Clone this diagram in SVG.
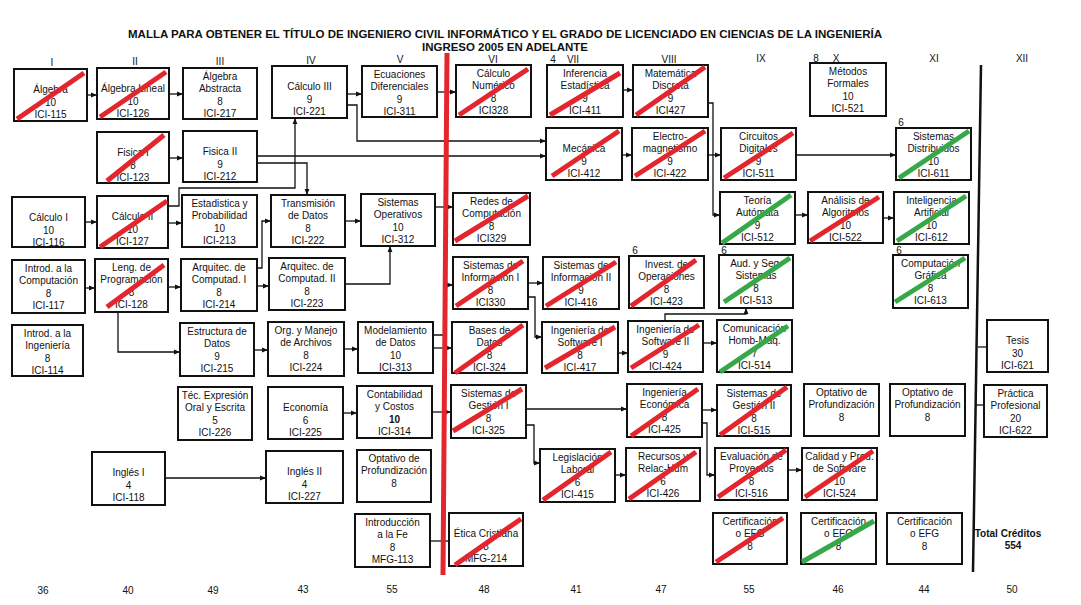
<svg xmlns="http://www.w3.org/2000/svg" width="1081" height="605" viewBox="0 0 1081 605">
<style>
text{font-family:"Liberation Sans",Arial,sans-serif;font-size:10px;text-anchor:middle;fill:#111}
.node rect{fill:#fff;stroke:#111;stroke-width:2}
.t{font-weight:bold;font-size:11px}
.b{font-weight:bold}
.r{stroke:#e3262e;stroke-width:5}
.g{stroke:#37a848;stroke-width:5}
#connectors path{fill:none;stroke:#111;stroke-width:1.3}
.a{marker-end:url(#arr)}
</style>
<defs>
<marker id="arr" viewBox="0 0 10 10" refX="10" refY="5" markerWidth="6" markerHeight="6" markerUnits="userSpaceOnUse" orient="auto"><path d="M0,1 L10,5 L0,9 z" fill="#111"/></marker>
</defs>
<rect width="1081" height="605" fill="#fff"/>
<g id="title">
<text class="t" x="505" y="38" textLength="754" lengthAdjust="spacingAndGlyphs">MALLA PARA OBTENER EL TÍTULO DE INGENIERO CIVIL INFORMÁTICO Y EL GRADO DE LICENCIADO EN CIENCIAS DE LA INGENIERÍA</text>
<text class="t" x="505" y="51" textLength="166" lengthAdjust="spacingAndGlyphs">INGRESO 2005 EN ADELANTE</text>
</g>
<g id="headers">
<text x="52" y="66">I</text><text x="135" y="65">II</text><text x="220" y="65">III</text><text x="311" y="64">IV</text><text x="400" y="63">V</text><text x="493" y="63">VI</text><text x="553" y="63">4</text><text x="573" y="63">VII</text><text x="669" y="63">VIII</text><text x="761" y="62">IX</text><text x="816" y="62">8</text><text x="836" y="62">X</text><text x="934" y="62">XI</text><text x="1022" y="62">XII</text>
<text x="635" y="254">6</text><text x="724" y="254">6</text><text x="899" y="254">6</text><text x="901" y="126">6</text>
</g>
<g id="totals">
<text x="43" y="594">36</text><text x="128" y="594">40</text><text x="213" y="594">49</text><text x="303" y="593">43</text><text x="392" y="593">55</text><text x="484" y="593">48</text><text x="576" y="593">41</text><text x="661" y="593">47</text><text x="749" y="593">55</text><text x="838" y="593">46</text><text x="924" y="593">44</text><text x="1012" y="593">50</text>
<text class="b" x="1008" y="537">Total Créditos</text><text class="b" x="1013" y="549">554</text>
</g>
<g id="dividers">
<line x1="981" y1="65" x2="973" y2="572" stroke="#111" stroke-width="2.5"/>
</g>
<g id="connectors">
<path class="a" d="M87,95 H97"/>
<path class="a" d="M169,94 H183"/>
<path class="a" d="M169,158 H183"/>
<path class="a" d="M347,94 H362"/>
<path class="a" d="M347,105 H357 V141 H546"/>
<path class="a" d="M257,156 H546"/>
<path class="a" d="M257,163 H307 V195"/>
<path class="a" d="M168,206 H179 V188 H295 V118"/>
<path class="a" d="M85,222 H97"/>
<path class="a" d="M168,223 H182"/>
<path class="a" d="M345,221 H361"/>
<path class="a" d="M257,268 H262 V221 H271"/>
<path class="a" d="M257,286 H269"/>
<path class="a" d="M345,284 H390 V246"/>
<path class="a" d="M85,288 H95"/>
<path class="a" d="M168,287 H181"/>
<path class="a" d="M118,312 V352 H180"/>
<path class="a" d="M254,350 H268"/>
<path class="a" d="M344,349 H358"/>
<path class="a" d="M435,207 H453"/>
<path class="a" d="M437,92 H456"/>
<path class="a" d="M623,90 H633"/>
<path class="a" d="M622,155 H632"/>
<path class="a" d="M708,155 H721"/>
<path class="a" d="M708,103 H713 V215 H720"/>
<path class="a" d="M796,155 H896"/>
<path class="a" d="M795,215 H808"/>
<path class="a" d="M883,218 H894"/>
<path class="a" d="M433,348 H452"/>
<path class="a" d="M433,335 H445 V285 H453"/>
<path class="a" d="M528,283 H543"/>
<path class="a" d="M528,297 H535 V337 H542"/>
<path class="a" d="M618,353 H628"/>
<path class="a" d="M703,343 H717"/>
<path class="a" d="M665,321 V314 H746 V308"/>
<path class="a" d="M432,412 H451"/>
<path class="a" d="M343,413 H357"/>
<path class="a" d="M526,409 H627"/>
<path class="a" d="M526,425 H534 V463 H540"/>
<path class="a" d="M615,475 H626"/>
<path class="a" d="M702,410 H717"/>
<path class="a" d="M702,423 H707 V475 H715"/>
<path class="a" d="M788,470 H802"/>
<path class="a" d="M165,478 H266"/>
<path d="M430,541 H449"/>
<path d="M978,347 H987"/>
<path d="M976,405 H984"/>
</g>
<g id="redline"><line x1="447" y1="53" x2="443" y2="575" stroke="#e3262e" stroke-width="5"/></g>

<g id="n-ici115" class="node" transform="translate(14,69)"><rect width="73" height="52"/><text x="36.5" y="24">Álgebra</text><text x="36.5" y="36.5">10</text><text x="36.5" y="49">ICI-115</text><line class="r" x1="3" y1="50" x2="70" y2="4"/></g>
<g id="n-ici126" class="node" transform="translate(97,68)"><rect width="72" height="51"/><text x="36" y="24">Álgebra Lineal</text><text x="36" y="36.5">10</text><text x="36" y="49">ICI-126</text><line class="r" x1="3" y1="49" x2="69" y2="4"/></g>
<g id="n-ici217" class="node" transform="translate(183,68)"><rect width="74" height="51"/><text x="37" y="11.5">Álgebra</text><text x="37" y="24">Abstracta</text><text x="37" y="36.5">8</text><text x="37" y="49">ICI-217</text></g>
<g id="n-ici221" class="node" transform="translate(272,66)"><rect width="75" height="52"/><text x="37.5" y="24">Cálculo III</text><text x="37.5" y="36.5">9</text><text x="37.5" y="49">ICI-221</text></g>
<g id="n-ici311" class="node" transform="translate(362,66)"><rect width="75" height="51"/><text x="37.5" y="11.5">Ecuaciones</text><text x="37.5" y="24">Diferenciales</text><text x="37.5" y="36.5">9</text><text x="37.5" y="49">ICI-311</text></g>
<g id="n-ici328" class="node" transform="translate(456,65)"><rect width="75" height="52"/><text x="37.5" y="11.5">Cálculo</text><text x="37.5" y="24">Numérico</text><text x="37.5" y="36.5">8</text><text x="37.5" y="49">ICI328</text><line class="r" x1="3" y1="50" x2="72" y2="4"/></g>
<g id="n-ici411" class="node" transform="translate(547,65)"><rect width="76" height="52"/><text x="38" y="11.5">Inferencia</text><text x="38" y="24">Estadística</text><text x="38" y="36.5">9</text><text x="38" y="49">ICI-411</text><line class="r" x1="3" y1="50" x2="73" y2="8"/></g>
<g id="n-ici427" class="node" transform="translate(633,65)"><rect width="75" height="52"/><text x="37.5" y="11.5">Matemática</text><text x="37.5" y="24">Discreta</text><text x="37.5" y="36.5">9</text><text x="37.5" y="49">ICI427</text><line class="r" x1="3" y1="50" x2="72" y2="2"/></g>
<g id="n-ici521" class="node" transform="translate(810,63)"><rect width="76" height="53"/><text x="38" y="11.5">Métodos</text><text x="38" y="24">Formales</text><text x="38" y="36.5">10</text><text x="38" y="49">ICI-521</text></g>

<g id="n-ici123" class="node" transform="translate(97,132)"><rect width="72" height="51"/><text x="36" y="24">Fisica I</text><text x="36" y="36.5">8</text><text x="36" y="49">ICI-123</text><line class="r" x1="10" y1="49" x2="67" y2="3"/></g>
<g id="n-ici212" class="node" transform="translate(183,131)"><rect width="74" height="51"/><text x="37" y="24">Fisica II</text><text x="37" y="36.5">9</text><text x="37" y="49">ICI-212</text></g>
<g id="n-ici412" class="node" transform="translate(546,128)"><rect width="76" height="52"/><text x="38" y="24">Mecánica</text><text x="38" y="36.5">9</text><text x="38" y="49">ICI-412</text><line class="r" x1="6" y1="48" x2="73" y2="3"/></g>
<g id="n-ici422" class="node" transform="translate(632,128)"><rect width="76" height="52"/><text x="38" y="11.5">Electro-</text><text x="38" y="24">magnetismo</text><text x="38" y="36.5">9</text><text x="38" y="49">ICI-422</text><line class="r" x1="3" y1="48" x2="73" y2="3"/></g>
<g id="n-ici511" class="node" transform="translate(721,128)"><rect width="75" height="52"/><text x="37.5" y="11.5">Circuitos</text><text x="37.5" y="24">Digitales</text><text x="37.5" y="36.5">9</text><text x="37.5" y="49">ICI-511</text><line class="r" x1="3" y1="50" x2="72" y2="5"/></g>
<g id="n-ici611" class="node" transform="translate(896,128)"><rect width="75" height="52"/><text x="37.5" y="11.5">Sistemas</text><text x="37.5" y="24">Distribuidos</text><text x="37.5" y="36.5">10</text><text x="37.5" y="49">ICI-611</text><line class="g" x1="3" y1="50" x2="73" y2="3"/></g>

<g id="n-ici116" class="node" transform="translate(12,197)"><rect width="73" height="50"/><text x="36.5" y="24">Cálculo I</text><text x="36.5" y="36.5">10</text><text x="36.5" y="48.5">ICI-116</text></g>
<g id="n-ici127" class="node" transform="translate(97,196)"><rect width="71" height="52"/><text x="35.5" y="24">Cálculo II</text><text x="35.5" y="36.5">10</text><text x="35.5" y="49">ICI-127</text><line class="r" x1="3" y1="51" x2="70" y2="5"/></g>
<g id="n-ici213" class="node" transform="translate(182,195)"><rect width="75" height="52"/><text x="37.5" y="11.5">Estadistica y</text><text x="37.5" y="24">Probabilidad</text><text x="37.5" y="36.5">10</text><text x="37.5" y="49">ICI-213</text></g>
<g id="n-ici222" class="node" transform="translate(271,195)"><rect width="74" height="52"/><text x="37" y="11.5">Transmisión</text><text x="37" y="24">de Datos</text><text x="37" y="36.5">8</text><text x="37" y="49">ICI-222</text></g>
<g id="n-ici312" class="node" transform="translate(361,194)"><rect width="74" height="52"/><text x="37" y="11.5">Sistemas</text><text x="37" y="24">Operativos</text><text x="37" y="36.5">10</text><text x="37" y="49">ICI-312</text></g>
<g id="n-ici329" class="node" transform="translate(453,193)"><rect width="77" height="52"/><text x="38.5" y="11.5">Redes de</text><text x="38.5" y="24">Computación</text><text x="38.5" y="36.5">8</text><text x="38.5" y="49">ICI329</text><line class="r" x1="2" y1="48" x2="75" y2="3"/></g>
<g id="n-ici512" class="node" transform="translate(720,192)"><rect width="75" height="52"/><text x="37.5" y="11.5">Teoría</text><text x="37.5" y="24">Autómata</text><text x="37.5" y="36.5">9</text><text x="37.5" y="49">ICI-512</text><line class="g" x1="2" y1="51" x2="71" y2="3"/></g>
<g id="n-ici522" class="node" transform="translate(808,192)"><rect width="75" height="51"/><text x="37.5" y="11.5">Análisis de</text><text x="37.5" y="24">Algoritmos</text><text x="37.5" y="36.5">10</text><text x="37.5" y="49">ICI-522</text><line class="r" x1="2" y1="49" x2="71" y2="5"/></g>
<g id="n-ici612" class="node" transform="translate(894,192)"><rect width="75" height="52"/><text x="37.5" y="11.5">Inteligencia</text><text x="37.5" y="24">Artificial</text><text x="37.5" y="36.5">10</text><text x="37.5" y="49">ICI-612</text><line class="g" x1="3" y1="49" x2="72" y2="4"/></g>

<g id="n-ici117" class="node" transform="translate(12,260)"><rect width="73" height="53"/><text x="36.5" y="11.5">Introd. a la</text><text x="36.5" y="24">Computación</text><text x="36.5" y="36.5">8</text><text x="36.5" y="49">ICI-117</text></g>
<g id="n-ici128" class="node" transform="translate(95,259)"><rect width="73" height="53"/><text x="36.5" y="11.5">Leng. de</text><text x="36.5" y="24">Programación</text><text x="36.5" y="36.5">8</text><text x="36.5" y="49">ICI-128</text><line class="r" x1="12" y1="48" x2="69" y2="6"/></g>
<g id="n-ici214" class="node" transform="translate(181,259)"><rect width="76" height="52"/><text x="38" y="11.5">Arquitec. de</text><text x="38" y="24">Computad. I</text><text x="38" y="36.5">8</text><text x="38" y="49">ICI-214</text></g>
<g id="n-ici223" class="node" transform="translate(269,258)"><rect width="76" height="52"/><text x="38" y="11.5">Arquitec. de</text><text x="38" y="24">Computad. II</text><text x="38" y="36.5">8</text><text x="38" y="49">ICI-223</text></g>
<g id="n-ici330" class="node" transform="translate(453,257)"><rect width="75" height="52"/><text x="37.5" y="11.5">Sistemas de</text><text x="37.5" y="24">Información I</text><text x="37.5" y="36.5">8</text><text x="37.5" y="49">ICI330</text><line class="r" x1="3" y1="49" x2="70" y2="4"/></g>
<g id="n-ici416" class="node" transform="translate(543,257)"><rect width="76" height="52"/><text x="38" y="11.5">Sistemas de</text><text x="38" y="24">Información II</text><text x="38" y="36.5">9</text><text x="38" y="49">ICI-416</text><line class="r" x1="3" y1="49" x2="73" y2="5"/></g>
<g id="n-ici423" class="node" transform="translate(629,256)"><rect width="75" height="52"/><text x="37.5" y="11.5">Invest. de</text><text x="37.5" y="24">Operaciones</text><text x="37.5" y="36.5">8</text><text x="37.5" y="49">ICI-423</text><line class="r" x1="2" y1="50" x2="67" y2="4"/></g>
<g id="n-ici513" class="node" transform="translate(719,255)"><rect width="74" height="53"/><text x="37" y="11.5">Aud. y Seg.</text><text x="37" y="24">Sistemas</text><text x="37" y="36.5">8</text><text x="37" y="49">ICI-513</text><line class="g" x1="5" y1="47" x2="71" y2="3"/></g>
<g id="n-ici613" class="node" transform="translate(893,255)"><rect width="75" height="53"/><text x="37.5" y="11.5">Computación</text><text x="37.5" y="24">Gráfica</text><text x="37.5" y="36.5">8</text><text x="37.5" y="49">ICI-613</text><line class="g" x1="2" y1="47" x2="72" y2="3"/></g>

<g id="n-ici114" class="node" transform="translate(12,325)"><rect width="71" height="51"/><text x="35.5" y="11.5">Introd. a la</text><text x="35.5" y="24">Ingeniería</text><text x="35.5" y="36.5">8</text><text x="35.5" y="49">ICI-114</text></g>
<g id="n-ici215" class="node" transform="translate(180,323)"><rect width="74" height="53"/><text x="37" y="11.5">Estructura de</text><text x="37" y="24">Datos</text><text x="37" y="36.5">9</text><text x="37" y="49">ICI-215</text></g>
<g id="n-ici224" class="node" transform="translate(268,322)"><rect width="76" height="54"/><text x="38" y="11.5">Org. y Manejo</text><text x="38" y="24">de Archivos</text><text x="38" y="36.5">8</text><text x="38" y="49">ICI-224</text></g>
<g id="n-ici313" class="node" transform="translate(358,322)"><rect width="75" height="51"/><text x="37.5" y="11.5">Modelamiento</text><text x="37.5" y="24">de Datos</text><text x="37.5" y="36.5">10</text><text x="37.5" y="49">ICI-313</text></g>
<g id="n-ici324" class="node" transform="translate(452,322)"><rect width="75" height="51"/><text x="37.5" y="11.5">Bases de</text><text x="37.5" y="24">Datos</text><text x="37.5" y="36.5">8</text><text x="37.5" y="49">ICI-324</text><line class="r" x1="3" y1="51" x2="71" y2="3"/></g>
<g id="n-ici417" class="node" transform="translate(542,322)"><rect width="76" height="51"/><text x="38" y="11.5">Ingeniería de</text><text x="38" y="24">Software I</text><text x="38" y="36.5">8</text><text x="38" y="49">ICI-417</text><line class="r" x1="3" y1="46" x2="73" y2="5"/></g>
<g id="n-ici424" class="node" transform="translate(628,321)"><rect width="75" height="51"/><text x="37.5" y="11.5">Ingeniería de</text><text x="37.5" y="24">Software II</text><text x="37.5" y="36.5">9</text><text x="37.5" y="49">ICI-424</text><line class="r" x1="3" y1="47" x2="71" y2="4"/></g>
<g id="n-ici514" class="node" transform="translate(717,320)"><rect width="75" height="52"/><text x="37.5" y="11.5">Comunicación</text><text x="37.5" y="24">Homb-Máq.</text><text x="37.5" y="36.5">7</text><text x="37.5" y="49">ICI-514</text><line class="g" x1="3" y1="52" x2="71" y2="6"/></g>
<g id="n-ici621" class="node" transform="translate(987,320)"><rect width="61" height="52"/><text x="30.5" y="24">Tesis</text><text x="30.5" y="36.5">30</text><text x="30.5" y="49">ICI-621</text></g>

<g id="n-ici226" class="node" transform="translate(178,387)"><rect width="74" height="53"/><text x="37" y="11.5">Téc. Expresión</text><text x="37" y="24">Oral y Escrita</text><text x="37" y="36.5">5</text><text x="37" y="49">ICI-226</text></g>
<g id="n-ici225" class="node" transform="translate(268,387)"><rect width="75" height="52"/><text x="37.5" y="24">Economía</text><text x="37.5" y="36.5">6</text><text x="37.5" y="49">ICI-225</text></g>
<g id="n-ici314" class="node" transform="translate(357,386)"><rect width="75" height="52"/><text x="37.5" y="11.5">Contabilidad</text><text x="37.5" y="24">y Costos</text><text x="37.5" y="36.5" class="b">10</text><text x="37.5" y="49">ICI-314</text></g>
<g id="n-ici325" class="node" transform="translate(451,385)"><rect width="75" height="53"/><text x="37.5" y="11.5">Sistemas de</text><text x="37.5" y="24">Gestión I</text><text x="37.5" y="36.5">8</text><text x="37.5" y="49">ICI-325</text><line class="r" x1="2" y1="46" x2="71" y2="4"/></g>
<g id="n-ici425" class="node" transform="translate(627,384)"><rect width="75" height="53"/><text x="37.5" y="11.5">Ingeniería</text><text x="37.5" y="24">Económica</text><text x="37.5" y="36.5">8</text><text x="37.5" y="49">ICI-425</text><line class="r" x1="4" y1="52" x2="71" y2="5"/></g>
<g id="n-ici515" class="node" transform="translate(717,385)"><rect width="74" height="51"/><text x="37" y="11.5">Sistemas de</text><text x="37" y="24">Gestión II</text><text x="37" y="36.5">8</text><text x="37" y="49">ICI-515</text><line class="r" x1="3" y1="50" x2="70" y2="2"/></g>
<g id="n-opt10" class="node" transform="translate(804,384)"><rect width="75" height="52"/><text x="37.5" y="11.5">Optativo de</text><text x="37.5" y="24">Profundización</text><text x="37.5" y="36.5">8</text></g>
<g id="n-opt11" class="node" transform="translate(890,384)"><rect width="75" height="52"/><text x="37.5" y="11.5">Optativo de</text><text x="37.5" y="24">Profundización</text><text x="37.5" y="36.5">8</text></g>
<g id="n-ici622" class="node" transform="translate(984,385)"><rect width="63" height="52"/><text x="31.5" y="11.5">Práctica</text><text x="31.5" y="24">Profesional</text><text x="31.5" y="36.5">20</text><text x="31.5" y="49">ICI-622</text></g>

<g id="n-ici118" class="node" transform="translate(92,452)"><rect width="73" height="53"/><text x="36.5" y="24">Inglés I</text><text x="36.5" y="36.5">4</text><text x="36.5" y="49">ICI-118</text></g>
<g id="n-ici227" class="node" transform="translate(266,451)"><rect width="77" height="52"/><text x="38.5" y="24">Inglés II</text><text x="38.5" y="36.5">4</text><text x="38.5" y="49">ICI-227</text></g>
<g id="n-opt5" class="node" transform="translate(357,450)"><rect width="74" height="52"/><text x="37" y="11.5">Optativo de</text><text x="37" y="24">Profundización</text><text x="37" y="36.5">8</text></g>
<g id="n-ici415" class="node" transform="translate(540,449)"><rect width="75" height="53"/><text x="37.5" y="11.5">Legislación</text><text x="37.5" y="24">Laboral</text><text x="37.5" y="36.5">6</text><text x="37.5" y="49">ICI-415</text><line class="r" x1="3" y1="51" x2="71" y2="3"/></g>
<g id="n-ici426" class="node" transform="translate(626,448)"><rect width="74" height="53"/><text x="37" y="11.5">Recursos y</text><text x="37" y="24">Relac-Hum</text><text x="37" y="36.5">6</text><text x="37" y="49">ICI-426</text><line class="r" x1="3" y1="51" x2="70" y2="4"/></g>
<g id="n-ici516" class="node" transform="translate(715,448)"><rect width="73" height="52"/><text x="36.5" y="11.5">Evaluación de</text><text x="36.5" y="24">Proyectos</text><text x="36.5" y="36.5">8</text><text x="36.5" y="49">ICI-516</text><line class="r" x1="3" y1="49" x2="71" y2="2"/></g>
<g id="n-ici524" class="node" transform="translate(802,448)"><rect width="75" height="52"/><text x="37.5" y="11.5">Calidad y Prod.</text><text x="37.5" y="24">de Software</text><text x="37.5" y="36.5">10</text><text x="37.5" y="49">ICI-524</text><line class="r" x1="3" y1="49" x2="71" y2="3"/></g>

<g id="n-mfg113" class="node" transform="translate(355,514)"><rect width="75" height="53"/><text x="37.5" y="11.5">Introducción</text><text x="37.5" y="24">a la Fe</text><text x="37.5" y="36.5">8</text><text x="37.5" y="49">MFG-113</text></g>
<g id="n-mfg214" class="node" transform="translate(449,513)"><rect width="74" height="53"/><text x="37" y="24">Ética Cristiana</text><text x="37" y="36.5">8</text><text x="37" y="49">MFG-214</text><line class="r" x1="6" y1="52" x2="72" y2="6"/></g>
<g id="n-cert9" class="node" transform="translate(713,513)"><rect width="74" height="51"/><text x="37" y="11.5">Certificación</text><text x="37" y="24">o EFG</text><text x="37" y="36.5">8</text><line class="r" x1="3" y1="49" x2="70" y2="5"/></g>
<g id="n-cert10" class="node" transform="translate(801,513)"><rect width="75" height="51"/><text x="37.5" y="11.5">Certificación</text><text x="37.5" y="24">o EFG</text><text x="37.5" y="36.5">8</text><line class="g" x1="1" y1="49" x2="73" y2="8"/></g>
<g id="n-cert11" class="node" transform="translate(887,513)"><rect width="75" height="51"/><text x="37.5" y="11.5">Certificación</text><text x="37.5" y="24">o EFG</text><text x="37.5" y="36.5">8</text></g>
</svg>
